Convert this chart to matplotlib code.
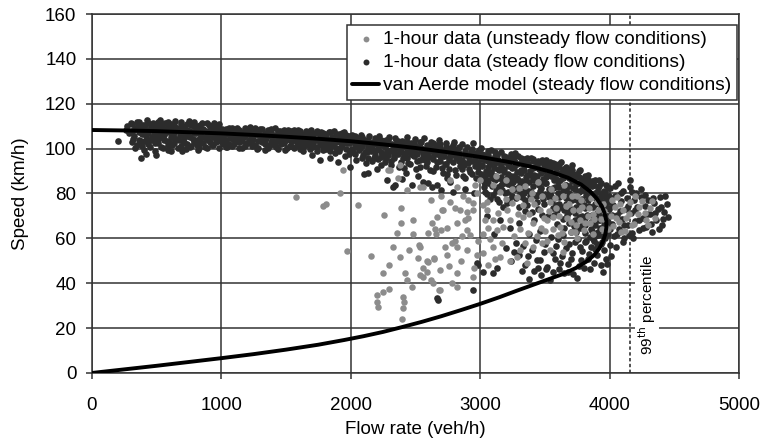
import matplotlib
matplotlib.use("Agg")
import matplotlib.pyplot as plt

# ---------------- data ----------------
# van Aerde model curve: (flow veh/h, speed km/h)
van_aerde_curve = [
    (0, 108.3), (250, 108.1), (500, 107.8), (750, 107.3), (1000, 106.8), (1250, 106.1),
    (1500, 105.3), (1750, 104.4), (2000, 103.3), (2250, 101.9), (2500, 100.3), (2750, 98.4),
    (3000, 96.3), (3200, 94.3), (3400, 91.9), (3550, 89.6), (3680, 87.0), (3780, 84.0),
    (3850, 80.9), (3900, 77.8), (3940, 74.4), (3962, 71.2), (3974, 68.0), (3976, 65.2),
    (3968, 62.0), (3950, 58.8), (3922, 55.6), (3880, 52.5), (3820, 49.6), (3740, 46.8),
    (3640, 44.1), (3520, 41.6), (3400, 39.1), (3280, 36.6), (3150, 33.8), (3000, 30.8),
    (2850, 28.0), (2700, 25.3), (2550, 22.8), (2400, 20.5), (2250, 18.3), (2100, 16.4),
    (1950, 14.7), (1750, 12.6), (1500, 10.4), (1250, 8.4), (1000, 6.6), (750, 4.9),
    (500, 3.2), (250, 1.6), (0, 0.0),
]

# 1-hour data, steady flow conditions (dark points)
steady_free = [
    (262, 108.5), (275, 110.2), (290, 106.9), (305, 111.3), (318, 104.2), (333, 109.1), (347, 101.8),
    (352, 112.0), (368, 107.4), (381, 103.3), (395, 110.6), (402, 99.2), (417, 105.8), (426, 112.7),
    (438, 108.2), (449, 100.6), (461, 103.9), (470, 111.4), (484, 106.5), (492, 98.9), (503, 109.7),
    (515, 102.3), (524, 112.9), (537, 105.1), (548, 100.1), (556, 108.8), (569, 111.6), (578, 103.6),
    (590, 99.4), (601, 107.2), (614, 110.9), (622, 101.7), (636, 104.8), (645, 112.3), (657, 108.4),
    (668, 100.2), (680, 106.1), (691, 111.0), (703, 102.9), (714, 109.5), (727, 99.8), (735, 105.6),
    (748, 112.1), (759, 107.7), (770, 101.1), (783, 104.4), (792, 110.3), (806, 106.8), (818, 99.6),
    (827, 108.9), (839, 102.5), (850, 111.5), (863, 105.3), (874, 100.9), (885, 108.0), (897, 103.7),
    (909, 110.7), (921, 106.2), (932, 101.4), (944, 108.6), (957, 104.1), (968, 110.0), (980, 100.5),
    (993, 106.9), (300, 108.0), (330, 105.5), (360, 110.0), (410, 108.3), (455, 109.8), (500, 104.6),
    (540, 110.6), (585, 107.6), (630, 108.9), (675, 104.0), (720, 107.3), (765, 110.5), (810, 104.0),
    (855, 107.9), (900, 106.4), (945, 111.2), (990, 103.6), (440, 104.0), (520, 106.4), (600, 103.0),
    (700, 109.6), (800, 108.0), (880, 104.9), (960, 107.4),
    (200, 103.3), (380, 95.8), (420, 97.5), (500, 97.2), (610, 99.0), (700, 98.8), (830, 100.3),
]
steady_mid = [
    (1008, 108.7), (1021, 103.2), (1034, 106.4), (1046, 100.8), (1059, 109.3), (1071, 104.7),
    (1085, 107.9), (1097, 101.9), (1110, 105.6), (1123, 109.0), (1135, 103.0), (1148, 107.2),
    (1160, 100.4), (1173, 105.0), (1186, 108.4), (1198, 102.4), (1211, 106.6), (1224, 109.6),
    (1236, 101.3), (1249, 104.3), (1262, 107.7), (1274, 100.0), (1287, 105.9), (1300, 108.9),
    (1312, 102.8), (1325, 106.2), (1338, 99.6), (1350, 104.6), (1363, 108.1), (1376, 101.6),
    (1388, 106.9), (1401, 103.4), (1414, 109.0), (1426, 100.7), (1439, 105.4), (1452, 107.9),
    (1464, 102.1), (1477, 106.0), (1490, 99.3), (1502, 104.0), (1515, 108.4), (1528, 101.2),
    (1540, 105.7), (1553, 107.5), (1566, 100.3), (1578, 103.6), (1591, 108.1), (1604, 102.0),
    (1616, 106.3), (1629, 99.0), (1642, 104.8), (1654, 107.8), (1667, 101.4), (1680, 105.2),
    (1692, 108.3), (1705, 100.6), (1718, 103.9), (1730, 106.9), (1743, 98.8), (1756, 104.4),
    (1768, 107.6), (1781, 101.8), (1794, 105.8), (1806, 99.7), (1819, 103.1), (1832, 107.3),
    (1844, 100.9), (1857, 105.0), (1870, 108.0), (1882, 97.9), (1895, 103.5), (1908, 106.5),
    (1920, 100.2), (1933, 104.6), (1946, 107.4), (1958, 96.9), (1971, 102.6), (1984, 105.8),
    (1996, 99.4), (1015, 105.8), (1090, 104.5), (1165, 106.6), (1240, 105.7), (1315, 104.7),
    (1390, 104.9), (1465, 104.2), (1540, 103.4), (1615, 104.2), (1690, 103.0), (1765, 104.1),
    (1840, 102.8), (1915, 102.9), (1990, 103.4), (1050, 107.3), (1200, 107.7), (1350, 106.9),
    (1500, 106.6), (1650, 106.0), (1800, 106.7), (1950, 105.6),
    (1760, 95.0), (1840, 96.0), (1995, 92.0), (1900, 94.2), (1700, 97.0),
]
steady_c = [
    (2008, 106.2), (2020, 98.6), (2033, 102.4), (2045, 95.1), (2058, 104.9), (2070, 100.3),
    (2083, 106.0), (2095, 97.0), (2108, 103.1), (2120, 93.8), (2133, 101.2), (2145, 105.6),
    (2158, 98.9), (2170, 102.8), (2183, 95.6), (2195, 104.4), (2208, 99.9), (2220, 105.8),
    (2233, 92.7), (2245, 101.6), (2258, 97.5), (2270, 104.0), (2283, 99.2), (2295, 105.3),
    (2308, 94.3), (2320, 102.0), (2333, 96.8), (2345, 104.7), (2358, 100.5), (2370, 91.9),
    (2383, 98.3), (2395, 103.5), (2408, 95.9), (2420, 101.0), (2433, 105.0), (2445, 93.4),
    (2458, 99.5), (2470, 102.7), (2483, 97.1), (2495, 104.3), (2508, 90.9), (2520, 100.1),
    (2533, 95.0), (2545, 102.9), (2558, 98.0), (2570, 104.6), (2583, 92.4), (2595, 99.8),
    (2608, 96.1), (2620, 103.1), (2633, 89.9), (2645, 97.6), (2658, 101.6), (2670, 94.2),
    (2683, 103.9), (2695, 99.0), (2708, 91.3), (2720, 96.7), (2733, 102.4), (2745, 88.6),
    (2758, 94.8), (2770, 100.4), (2783, 97.3), (2795, 103.0), (2808, 90.5), (2820, 95.9),
    (2833, 99.8), (2845, 92.2), (2858, 102.1), (2870, 87.6), (2883, 97.0), (2895, 100.9),
    (2908, 93.6), (2920, 89.4), (2933, 98.4), (2945, 102.5), (2958, 95.1), (2970, 86.8),
    (2983, 91.9), (2995, 99.5), (2015, 103.0), (2090, 102.5), (2165, 101.3), (2240, 103.2),
    (2315, 99.0), (2390, 100.6), (2465, 97.7), (2540, 99.3), (2615, 100.1), (2690, 96.5),
    (2765, 97.6), (2840, 96.9), (2915, 95.8), (2990, 96.5), (2050, 100.7), (2200, 102.1),
    (2350, 102.3), (2500, 101.1), (2650, 99.5), (2800, 99.9), (2950, 98.1), (2125, 98.5),
    (2275, 95.8), (2425, 98.0), (2575, 94.8), (2725, 93.3), (2875, 92.8),
    (2135, 89.0), (2280, 86.0), (2340, 84.0), (2430, 89.0), (2520, 88.0), (2560, 85.0),
    (2630, 83.0), (2770, 85.0), (2790, 80.6), (2330, 82.8), (2475, 84.0), (2600, 84.6),
    (2665, 83.7), (2100, 88.5), (2200, 91.0), (2400, 86.5), (2700, 81.5), (2880, 82.0),
    (2950, 80.0), (2742, 87.0),
]
steady_d = [
    (3008, 100.1), (3018, 92.5), (3029, 85.2), (3040, 97.3), (3051, 79.9), (3062, 94.6),
    (3073, 88.6), (3084, 99.4), (3095, 83.3), (3106, 91.2), (3117, 96.5), (3128, 77.6),
    (3139, 86.9), (3150, 93.8), (3161, 98.6), (3172, 81.5), (3183, 89.7), (3194, 95.2),
    (3205, 75.8), (3216, 84.4), (3227, 92.1), (3238, 97.7), (3249, 79.0), (3260, 87.8),
    (3271, 94.0), (3282, 82.3), (3293, 96.9), (3304, 73.9), (3315, 90.3), (3326, 85.6),
    (3337, 95.5), (3348, 77.2), (3359, 88.4), (3370, 93.2), (3381, 81.0), (3392, 96.0),
    (3403, 71.8), (3414, 86.2), (3425, 91.8), (3436, 76.4), (3447, 94.5), (3458, 83.9),
    (3469, 89.0), (3480, 70.5), (3491, 92.9), (3500, 79.7), (3012, 95.4), (3046, 90.1),
    (3080, 93.0), (3114, 88.0), (3148, 90.4), (3182, 93.9), (3216, 88.9), (3250, 91.3),
    (3284, 89.4), (3318, 93.4), (3352, 87.2), (3386, 90.0), (3420, 88.2), (3454, 90.8),
    (3488, 86.5), (3030, 83.0), (3100, 79.5), (3170, 86.0), (3240, 83.8), (3310, 80.2),
    (3380, 85.0), (3450, 79.2), (3060, 98.9), (3130, 97.0), (3200, 96.4), (3270, 98.2),
    (3340, 92.5), (3410, 94.3), (3475, 95.0),
    (3050, 70.0), (3150, 68.2), (3230, 64.5), (3300, 66.8), (3380, 61.9), (3420, 68.4),
    (3280, 58.0), (3180, 74.0), (3350, 72.0), (3460, 63.5), (3110, 62.0),
    (3010, 88.5), (3035, 80.5), (3055, 86.0), (3075, 77.5), (3090, 87.0), (3120, 81.0),
    (3145, 76.0), (3160, 84.0), (3195, 80.0), (3210, 87.0), (3225, 77.0), (3255, 85.0),
    (3275, 78.0), (3295, 86.0),
]
steady_nose = [
    (3508, 94.8), (3520, 88.3), (3532, 82.0), (3544, 91.7), (3556, 76.8), (3568, 85.9),
    (3580, 93.1), (3592, 72.6), (3604, 80.4), (3616, 89.2), (3628, 94.0), (3640, 68.7),
    (3652, 84.0), (3664, 78.1), (3676, 91.0), (3688, 86.8), (3700, 73.3), (3712, 92.6),
    (3724, 65.4), (3736, 81.9), (3748, 88.7), (3760, 76.2), (3772, 90.5), (3784, 70.0),
    (3796, 84.9), (3808, 62.3), (3820, 79.4), (3832, 88.1), (3844, 74.4), (3856, 67.1),
    (3868, 85.6), (3880, 58.8), (3892, 77.9), (3904, 71.3), (3916, 83.4), (3928, 64.8),
    (3940, 80.0), (3952, 61.0), (3964, 74.6), (3976, 84.0), (3988, 69.9), (3998, 78.8),
    (3515, 91.5), (3550, 87.9), (3585, 89.3), (3620, 85.9), (3655, 88.0), (3690, 83.3),
    (3725, 86.3), (3760, 84.6), (3795, 81.5), (3830, 83.6), (3865, 79.0), (3900, 80.5),
    (3935, 76.5), (3970, 78.0), (3530, 78.5), (3570, 70.5), (3610, 75.4), (3650, 72.8),
    (3690, 67.0), (3730, 71.5), (3770, 64.5), (3810, 69.0), (3850, 60.5), (3890, 65.8),
    (3930, 57.6), (3960, 66.0), (3995, 73.0), (3560, 93.8), (3600, 92.0), (3640, 91.0),
    (3680, 89.6), (3720, 88.9), (3760, 87.5), (3800, 86.8), (3840, 85.0), (3880, 83.6),
    (3920, 86.2), (3960, 81.3),
    (3300, 52.5), (3350, 48.0), (3400, 55.0), (3420, 45.4), (3460, 50.5), (3500, 57.4),
    (3520, 47.3), (3560, 53.3), (3600, 59.5), (3620, 49.0), (3660, 55.8), (3700, 51.0),
    (3730, 58.4), (3760, 47.8), (3790, 54.2), (3830, 50.6), (3860, 56.0), (3900, 52.4),
    (3930, 48.0), (3960, 54.8), (3240, 50.0), (3200, 55.6), (3380, 42.0), (3470, 43.8),
    (3540, 41.5), (3650, 44.6), (3720, 44.0), (3850, 46.5), (3750, 42.5), (3950, 45.0),
    (3330, 56.8), (3370, 52.0), (3430, 59.4), (3440, 50.3), (3490, 54.0), (3510, 46.5),
    (3550, 60.6), (3580, 50.8), (3590, 56.5), (3630, 52.2), (3640, 61.6), (3680, 48.6),
    (3690, 57.7), (3710, 53.6), (3740, 63.0), (3770, 56.0), (3780, 50.5), (3810, 58.6),
    (3840, 53.2), (3870, 59.8), (3890, 55.3), (3910, 63.0), (3945, 58.5), (3260, 53.8),
    (3320, 45.5), (3450, 47.0), (3560, 45.0), (3610, 46.5), (3680, 44.8), (3800, 46.9),
    (3880, 49.0), (3970, 51.0), (4000, 57.0),
    (3305, 84.0), (3325, 78.5), (3345, 82.0), (3365, 75.0), (3390, 80.5), (3405, 86.5),
    (3430, 79.0), (3445, 73.0), (3470, 82.5), (3495, 75.5), (3505, 84.5), (3525, 70.0),
    (3545, 79.0), (3565, 73.5), (3575, 83.0), (3595, 66.5), (3605, 85.0), (3625, 74.0),
    (3635, 79.5), (3645, 64.5), (3660, 82.0), (3670, 70.5), (3695, 78.0), (3705, 63.0),
    (3715, 82.5), (3735, 68.0), (3745, 77.0), (3755, 59.5), (3775, 81.0), (3790, 66.0),
    (3805, 75.0), (3815, 59.0), (3825, 70.5), (3845, 80.0), (3855, 64.0), (3875, 74.0),
    (3885, 61.0), (3895, 69.5), (3905, 57.5), (3915, 77.0), (3925, 68.0), (3945, 71.0),
    (3950, 64.0), (3955, 79.5), (3965, 60.0), (3985, 73.5), (3990, 62.0),
]
# extra steady readings across the dense band, grouped by flow column
steady_band_columns = [
    (312, [103.0, 107.5, 111.0]), (337, [100.5, 108.8]), (362, [104.0, 111.8]),
    (387, [106.4, 101.0, 109.3]), (412, [110.4, 103.2]), (437, [101.9, 106.9, 111.3]),
    (462, [108.7, 105.0]), (487, [102.4, 110.2, 107.8]), (512, [104.5, 111.7]),
    (537, [100.9, 107.9, 110.0]), (562, [103.9, 106.2]), (587, [109.8, 101.6, 112.0]),
    (612, [105.4, 108.1]), (637, [102.7, 110.6, 106.8]), (662, [104.3, 109.4]),
    (687, [101.0, 107.6, 112.0]), (712, [105.0, 103.1]), (737, [108.3, 110.9, 102.0]),
    (762, [105.0, 100.7]), (787, [107.0, 111.9, 103.0]), (812, [109.9, 101.8]),
    (837, [104.9, 110.7, 107.0]), (862, [102.6, 108.8]), (887, [106.0, 111.3, 100.5]),
    (912, [103.0, 108.4]), (937, [105.4, 110.1, 101.5]), (962, [102.8, 106.0]),
    (987, [108.5, 111.1, 104.6]), (1012, [102.0, 107.0]), (1037, [104.0, 108.6, 100.9]),
    (1062, [106.3, 102.2]), (1087, [101.0, 109.2, 105.0]), (1112, [107.6, 103.3]),
    (1137, [100.5, 105.0, 108.4]), (1162, [103.4, 107.0]), (1187, [105.9, 101.1, 109.0]),
    (1212, [103.9, 108.3]), (1237, [106.8, 102.0, 104.6]), (1262, [109.0, 101.5]),
    (1287, [103.5, 107.3, 100.3]), (1312, [105.8, 108.6]), (1337, [102.2, 106.3, 104.0]),
    (1362, [100.5, 107.0]), (1387, [103.0, 108.9, 105.6]), (1412, [101.8, 106.1]),
    (1437, [103.6, 108.0, 100.0]), (1462, [106.9, 104.2]), (1487, [102.3, 108.4, 105.0]),
    (1512, [100.2, 106.0]), (1537, [103.2, 107.9, 101.0]), (1562, [105.3, 108.3]),
    (1587, [101.5, 104.1, 106.6]), (1612, [99.8, 107.8]), (1637, [103.0, 105.6, 101.3]),
    (1662, [107.1, 103.7]), (1687, [100.0, 105.0, 108.0]), (1712, [102.4, 106.3]),
    (1737, [104.0, 100.6, 107.7]), (1762, [102.6, 105.9]), (1787, [99.6, 103.8, 107.0]),
    (1812, [105.0, 101.2]), (1837, [103.4, 107.6, 99.0]), (1862, [101.7, 104.6]),
    (1887, [106.3, 100.3, 103.0]), (1912, [98.9, 105.1]), (1937, [101.5, 103.7, 107.0]),
    (1962, [99.8, 105.9]), (1987, [102.4, 97.8, 104.9]), (2012, [100.0, 104.3]),
    (2037, [97.5, 102.1, 105.6]), (2062, [99.4, 103.0]), (2087, [95.6, 101.2, 105.0]),
    (2112, [98.4, 104.0]), (2137, [100.4, 96.0, 103.7]), (2162, [94.5, 102.0]),
    (2187, [99.0, 104.9, 97.2]), (2212, [101.2, 95.4]), (2237, [98.7, 103.8, 96.1]),
    (2262, [100.8, 94.0]), (2287, [97.0, 102.6, 103.9]), (2312, [99.6, 92.8]),
    (2337, [101.2, 95.6, 98.4]), (2362, [103.5, 97.4]), (2387, [94.2, 100.0, 102.2]),
    (2412, [97.8, 91.3]), (2437, [99.9, 103.0, 95.9]), (2462, [93.2, 101.4]),
    (2487, [96.8, 99.0, 102.5]), (2512, [94.6, 97.7]), (2537, [100.6, 92.0, 103.1]),
    (2562, [96.4, 99.9]), (2587, [93.9, 101.8, 97.4]), (2612, [90.6, 98.9]),
    (2637, [95.4, 102.6, 99.7]), (2662, [92.0, 97.5]), (2687, [100.2, 94.5, 101.9]),
    (2712, [96.6, 89.0]), (2737, [98.8, 93.0, 100.9]), (2762, [95.7, 91.0]),
    (2787, [98.0, 101.6, 93.9]), (2812, [96.2, 88.4]), (2837, [94.6, 100.8, 97.9]),
    (2862, [91.1, 95.1]), (2887, [99.0, 86.9, 93.7]), (2912, [97.0, 90.7]),
    (2937, [94.3, 100.0, 88.6]), (2962, [96.9, 92.4]), (2987, [98.6, 89.6, 94.1]),
    (3012, [92.3, 97.6, 86.9]), (3037, [95.0, 88.0]), (3062, [91.8, 97.1, 84.5]),
    (3087, [95.3, 89.4]), (3112, [93.6, 98.4, 86.0]), (3137, [90.8, 95.0, 82.9]),
    (3162, [92.0, 87.3]), (3187, [96.8, 84.7, 90.9]), (3212, [93.0, 80.6]),
    (3237, [95.4, 88.0, 85.9]), (3262, [91.7, 96.2, 82.1]), (3287, [87.0, 93.2]),
    (3312, [84.4, 95.7, 89.1]), (3337, [90.6, 80.0]), (3362, [93.7, 85.3, 96.0]),
    (3387, [88.2, 78.8]), (3412, [91.4, 95.4, 83.2]), (3437, [87.6, 92.9]),
    (3462, [85.0, 94.0, 80.9]), (3487, [89.9, 77.4]), (3512, [92.8, 84.6, 87.3]),
    (3537, [79.6, 90.2, 93.9]), (3562, [82.4, 88.8]), (3587, [74.8, 86.4, 91.2]),
    (3612, [83.0, 78.3, 93.0]), (3637, [86.9, 81.0, 89.9]), (3662, [75.4, 91.9, 83.7]),
    (3687, [80.0, 88.1, 71.6]), (3712, [85.4, 77.0, 90.4]), (3737, [74.0, 84.3, 88.0]),
    (3762, [80.6, 69.5, 90.0]), (3787, [86.3, 77.4, 82.1]), (3812, [73.6, 87.6, 66.0]),
    (3837, [81.0, 77.0, 86.1]), (3862, [70.6, 83.5, 63.2]), (3887, [75.5, 86.0, 80.0]),
    (3912, [68.0, 82.4, 61.4]), (3937, [73.9, 84.9, 78.8]), (3962, [64.9, 80.6, 70.3]),
    (3987, [76.0, 82.6, 67.2]),
]
steady_over = [
    (4005, 82.3), (4015, 66.4), (4025, 74.8), (4035, 61.0), (4045, 79.1), (4055, 70.2),
    (4065, 84.5), (4075, 64.3), (4085, 76.6), (4095, 68.8), (4105, 81.2), (4115, 60.3),
    (4125, 73.1), (4135, 78.0), (4145, 65.9), (4155, 83.0), (4165, 71.4), (4175, 62.6),
    (4185, 76.9), (4195, 67.7), (4205, 80.0), (4215, 73.8), (4225, 63.9), (4240, 78.3),
    (4255, 69.1), (4270, 74.5), (4285, 65.0), (4300, 77.2), (4315, 70.8), (4330, 62.7),
    (4345, 75.6), (4360, 68.3), (4375, 73.0), (4390, 78.6), (4405, 66.0), (4420, 71.7),
    (4440, 75.3), (4455, 69.5), (4050, 56.0), (4100, 58.5), (4010, 52.0), (3980, 48.5),
    (4160, 86.0), (4180, 60.0),
    (4020, 70.5), (4040, 83.5), (4060, 62.0), (4080, 72.0), (4090, 80.0), (4110, 66.0),
    (4140, 74.5), (4150, 61.5), (4170, 80.5), (4200, 72.5), (4230, 68.0), (4245, 82.0),
    (4260, 64.5), (4275, 79.5), (4290, 71.0), (4320, 66.5), (4335, 78.0), (4350, 71.5),
    (4380, 64.0), (4400, 74.0), (4430, 79.0), (4410, 68.5), (4000, 78.0), (4000, 64.0),
]
steady_low = [
    (2670, 33.4), (2985, 48.0), (3025, 45.0), (3130, 47.0), (2975, 49.0), (3100, 44.5),
    (2945, 37.0), (2675, 32.5),
]

# 1-hour data, unsteady flow conditions (grey points)
unsteady_points = [
    (1578, 78.4), (1785, 74.3), (1810, 75.2), (1917, 80.2), (1943, 90.4), (2058, 74.8),
    (1970, 54.3), (2200, 34.7), (2205, 31.8), (2258, 70.4), (2390, 73.5), (2390, 66.8),
    (2482, 68.2), (2630, 66.8), (2600, 62.4), (2660, 62.0), (2700, 63.7), (2715, 72.6),
    (2530, 57.0), (2380, 51.7), (2520, 51.2), (2590, 50.0), (2645, 51.2), (2745, 52.6),
    (2560, 46.8), (2250, 44.5), (2420, 44.5), (2435, 41.4), (2475, 38.3), (2560, 42.8),
    (2620, 41.5), (2635, 40.0), (2685, 37.0), (2785, 40.0), (2300, 37.4), (2250, 36.0),
    (2213, 29.4), (2405, 33.8), (2412, 31.5), (2405, 29.0), (2400, 24.0),
    (2303, 90.4), (2380, 92.6), (2535, 83.0), (2650, 64.0), (2742, 64.6), (2665, 69.5),
    (2705, 72.6), (2805, 73.5), (2820, 67.0), (2885, 68.0), (2900, 63.7), (2805, 59.0),
    (2820, 56.0), (2900, 54.8), (2975, 52.5), (2820, 83.0), (2905, 77.0), (2945, 72.6),
    (2768, 86.0), (2535, 56.0), (2600, 49.4), (2640, 51.0), (2535, 43.6), (3100, 56.0),
    (3115, 51.0), (3060, 48.0), (3040, 68.0), (3050, 72.6), (3020, 75.0),
    (2768, 76.0), (2845, 72.6), (2900, 71.7), (2910, 69.0), (2945, 75.7), (2920, 61.5),
    (2975, 80.0), (3050, 76.0), (3100, 68.0), (3130, 63.7), (3180, 65.0), (3230, 68.0),
    (3205, 72.6), (3245, 75.7), (3285, 78.4), (3330, 69.5), (3410, 66.8), (3370, 62.4),
    (3460, 72.6), (3515, 68.0), (3560, 69.5), (3617, 65.0), (3670, 69.0), (3720, 72.6),
    (3770, 68.0), (3800, 63.7), (3850, 66.8), (3875, 71.0), (3515, 59.0), (3410, 56.0),
    (3305, 54.8), (3285, 51.7), (3360, 49.0), (3230, 50.0), (3155, 51.7), (3025, 53.4),
    (2590, 45.0), (2690, 46.0), (2820, 44.5), (2690, 37.0), (2820, 38.3), (2945, 42.8),
    (2290, 90.4), (2365, 87.0), (2435, 81.5), (2560, 83.0),
    (3420, 75.5), (3480, 79.0), (3540, 76.2), (3590, 73.4), (3640, 78.8), (3690, 75.5),
    (3740, 66.0), (3790, 74.0), (3830, 70.0), (3870, 62.0), (3900, 76.0), (3930, 68.5),
    (3960, 72.0), (3600, 61.5), (3650, 58.5), (3700, 62.8), (3750, 60.0), (3560, 64.0),
    (3470, 64.5), (3380, 71.0), (3330, 75.0), (3150, 80.5), (3250, 82.0), (3350, 83.5),
    (3450, 85.0), (3550, 82.0), (3650, 84.0), (3750, 79.0), (3100, 84.0), (3200, 77.5),
    (3000, 86.0),
    (3020, 62.0), (3080, 59.5), (3140, 71.5), (3170, 57.8), (3260, 61.0), (3290, 71.0),
    (3310, 64.0), (3350, 58.0), (3390, 77.5), (3440, 61.2), (3490, 69.0), (3500, 63.5),
    (3530, 72.0), (3575, 78.0), (3610, 70.0), (3630, 62.5), (3660, 74.5), (3700, 67.5),
    (3710, 79.0), (3730, 63.0), (3760, 72.5), (3780, 77.0), (3810, 67.0), (3840, 73.5),
    (3860, 78.0), (3880, 68.5), (3910, 72.5), (3940, 64.0), (3950, 75.5), (3480, 58.0),
    (3540, 55.0), (3640, 54.0), (3400, 80.0), (3300, 82.5), (3200, 86.0), (3120, 88.0),
    (2960, 84.0), (3060, 64.5), (2980, 59.0), (2860, 61.0), (2780, 58.0), (2730, 56.0),
    (2850, 50.0), (2950, 47.0), (2760, 47.5), (2480, 62.0), (2450, 55.0), (2700, 79.0),
    (2620, 77.0), (2870, 79.0), (2360, 62.5), (2330, 56.0), (2300, 48.0), (2160, 52.0),
    (4010, 70.0), (4040, 74.0), (4070, 67.5), (4100, 72.5), (4130, 69.0), (4160, 76.0),
    (4190, 66.5), (4220, 71.0), (4250, 76.5), (4280, 68.0), (4310, 73.5), (4060, 78.5),
    (4120, 63.5), (4200, 79.0), (3990, 64.0), (4030, 65.5),
    (4050, 69.0), (4080, 75.5), (4150, 71.0), (4175, 66.0), (4230, 74.0), (4270, 71.5),
    (4300, 66.0), (4330, 76.5), (4350, 69.0), (4090, 63.0), (4020, 77.0),
]

percentile_99_flow = 4160
x_ticks = [0, 1000, 2000, 3000, 4000, 5000]
y_ticks = [0, 20, 40, 60, 80, 100, 120, 140, 160]
legend_labels = ["1-hour data (unsteady flow conditions)",
                 "1-hour data (steady flow conditions)",
                 "van Aerde model (steady flow conditions)"]

# ---------------- plotting ----------------
plt.rcParams['font.family'] = ['Liberation Sans', 'DejaVu Sans']

fig = plt.figure(figsize=(7.63, 4.46), dpi=100)
ax = fig.add_axes([0.1202, 0.1637, 0.8484, 0.8049])

steady_all = steady_free + steady_mid + steady_c + steady_d + steady_nose + steady_over + steady_low
for q, speeds in steady_band_columns:
    steady_all = steady_all + [(q, v) for v in speeds]
sq, sv = zip(*steady_all)
uq, uv = zip(*unsteady_points)
cq, cv = zip(*van_aerde_curve)

dark = '#2c2c2c'
grey = '#8c8c8c'
h_steady = ax.scatter(sq, sv, s=23, color=dark, linewidths=0, zorder=3)
h_unsteady = ax.scatter(uq, uv, s=22, color=grey, linewidths=0, zorder=4)
h_curve, = ax.plot(cq, cv, color='black', lw=2.8, zorder=5,
                   solid_capstyle='round', solid_joinstyle='round')

ax.axvline(percentile_99_flow, color='#222222', lw=1.1, ls=(0, (2.2, 1.6)), zorder=2)
ax.text(4290, 30.5, "99$^{\\mathrm{th}}$ percentile", rotation=90, ha='center', va='center',
        fontsize=11, zorder=6,
        bbox=dict(facecolor='white', edgecolor='none', pad=1.0))

ax.set_xlim(0, 5000)
ax.set_ylim(0, 160)
ax.set_xticks(x_ticks)
ax.set_yticks(y_ticks)
ax.grid(True, color='#333333', lw=1.1, zorder=1)
ax.set_axisbelow(True)
for s in ax.spines.values():
    s.set_color('#333333')
    s.set_linewidth(1.1)
ax.tick_params(axis='x', direction='out', length=4, width=1.1, color='#333333', labelsize=13.5, pad=13)
ax.tick_params(axis='y', direction='out', length=4, width=1.1, color='#333333', labelsize=13.5, pad=7)

fig.text(0.544, 0.036, "Flow rate (veh/h)", ha='center', va='center', fontsize=13.5)
fig.text(0.0275, 0.566, "Speed (km/h)", ha='center', va='center', rotation=90, fontsize=13.5)

leg = ax.legend([h_unsteady, h_steady, h_curve], legend_labels,
                loc='upper right', bbox_to_anchor=(0.997, 0.97), borderaxespad=0,
                fontsize=13.8, frameon=True, fancybox=False, framealpha=1,
                edgecolor='#333333', handlelength=1.4, handletextpad=0.2,
                borderpad=0.3, labelspacing=0.3, scatterpoints=1, markerscale=0.9)
leg.get_frame().set_linewidth(1.1)
leg.set_zorder(10)

fig.savefig("out.png", dpi=100)
